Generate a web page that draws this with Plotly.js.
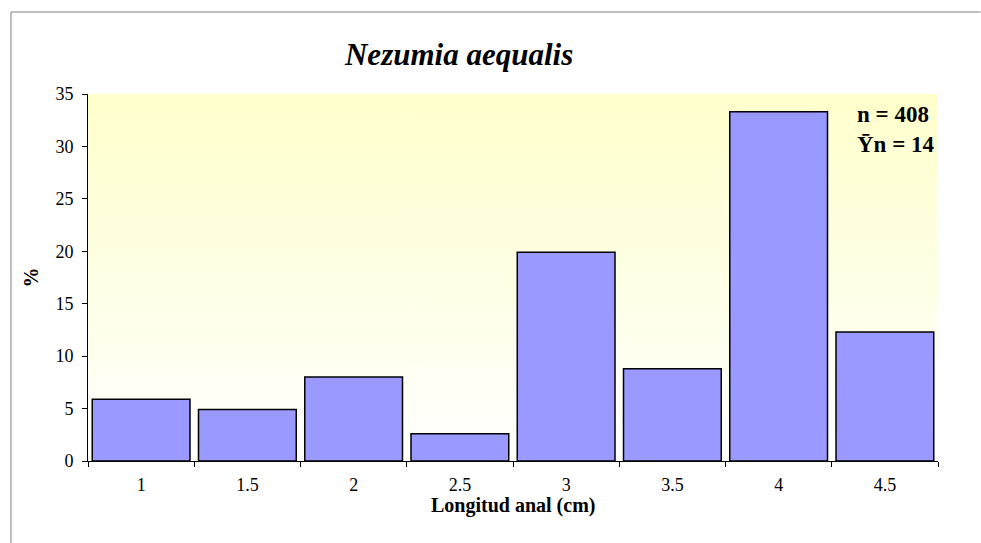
<!DOCTYPE html>
<html>
<head>
<meta charset="utf-8">
<script src="https://cdn.plot.ly/plotly-3.0.1.min.js"></script>
<style>
  html, body { margin: 0; padding: 0; background: #ffffff; overflow: hidden; }
  #chart { width: 981px; height: 543px; }
</style>
</head>
<body>
<div id="chart"></div>
<script>
// Longitud anal (cm) classes and their percentages
const classes = ['1', '1.5', '2', '2.5', '3', '3.5', '4', '4.5'];
const percent = [5.9, 4.9, 8.0, 2.6, 19.9, 8.8, 33.3, 12.3];
const yTicks = [0, 5, 10, 15, 20, 25, 30, 35];

const FONT = 'Liberation Serif';

// Pale yellow -> white vertical gradient for the plot background
function gradientImage() {
  const c = document.createElement('canvas');
  c.width = 4;
  c.height = 400;
  const ctx = c.getContext('2d');
  const g = ctx.createLinearGradient(0, 0, 0, 400);
  g.addColorStop(0, '#ffffcc');
  g.addColorStop(1, '#ffffff');
  ctx.fillStyle = g;
  ctx.fillRect(0, 0, 4, 400);
  return c.toDataURL('image/png');
}

const barTrace = {
  type: 'bar',
  x: classes,
  y: percent,
  marker: { color: '#9999ff', line: { color: '#000000', width: 1.5 } },
  hoverinfo: 'x+y',
};

const layout = {
  width: 981,
  height: 543,
  margin: { t: 94, r: 43, b: 82, l: 88 },
  paper_bgcolor: '#ffffff',
  plot_bgcolor: 'rgba(0,0,0,0)',
  font: { family: FONT, color: '#000000', size: 18 },
  showlegend: false,
  bargap: 0.08,
  title: {
    text: 'Nezumia aequalis',
    font: { family: FONT, size: 31, color: '#000000', weight: 'bold', style: 'italic' },
    x: 0.468, xref: 'container', xanchor: 'center',
    y: 0.9, yref: 'container', yanchor: 'middle',
  },
  xaxis: {
    type: 'category',
    tickson: 'boundaries',
    ticks: 'outside',
    ticklen: 5,
    tickcolor: '#000000',
    showline: true,
    linecolor: '#000000',
    linewidth: 1,
    showgrid: false,
    zeroline: false,
    tickfont: { family: FONT, size: 18 },
    ticklabelstandoff: 7,
  },
  yaxis: {
    range: [0, 35],
    tickvals: yTicks,
    ticks: 'outside',
    ticklen: 5,
    tickcolor: '#000000',
    showline: true,
    linecolor: '#000000',
    linewidth: 1,
    showgrid: false,
    zeroline: false,
    tickfont: { family: FONT, size: 18 },
    ticklabelstandoff: 5,
    title: {
      text: '%',
      font: { family: FONT, size: 20, weight: 'bold' },
      standoff: 11,
    },
  },
  images: [{
    source: gradientImage(),
    xref: 'paper', yref: 'paper',
    x: 0, y: 1, sizex: 1, sizey: 1,
    sizing: 'stretch',
    xanchor: 'left', yanchor: 'top',
    layer: 'below',
  }],
  // Outer chart frame (only top and left edges fall inside the picture)
  shapes: [
    {
      type: 'line', xref: 'paper', yref: 'paper',
      x0: -0.0906, x1: -0.0906, y0: -0.23, y1: 1.2234,
      line: { color: '#808080', width: 1 },
    },
    {
      type: 'line', xref: 'paper', yref: 'paper',
      x0: -0.0906, x1: 1.05, y0: 1.2234, y1: 1.2234,
      line: { color: '#808080', width: 1 },
    },
  ],
  annotations: [
    {
      xref: 'paper', yref: 'paper',
      x: 0.999, y: 0.984,
      xanchor: 'right', yanchor: 'top',
      align: 'left',
      showarrow: false,
      text: 'n = 408<br>\u0232n = 14',
      font: { family: FONT, size: 23, color: '#000000', weight: 'bold' },
    },
    // x axis title, drawn close under the tick labels as in the original
    {
      xref: 'paper', yref: 'paper',
      x: 0.5, y: -0.12,
      xanchor: 'center', yanchor: 'middle',
      showarrow: false,
      text: 'Longitud anal (cm)',
      font: { family: FONT, size: 20, color: '#000000', weight: 'bold' },
    },
  ],
};

Plotly.newPlot('chart', [barTrace], layout, { displayModeBar: false, staticPlot: true });
</script>
</body>
</html>
